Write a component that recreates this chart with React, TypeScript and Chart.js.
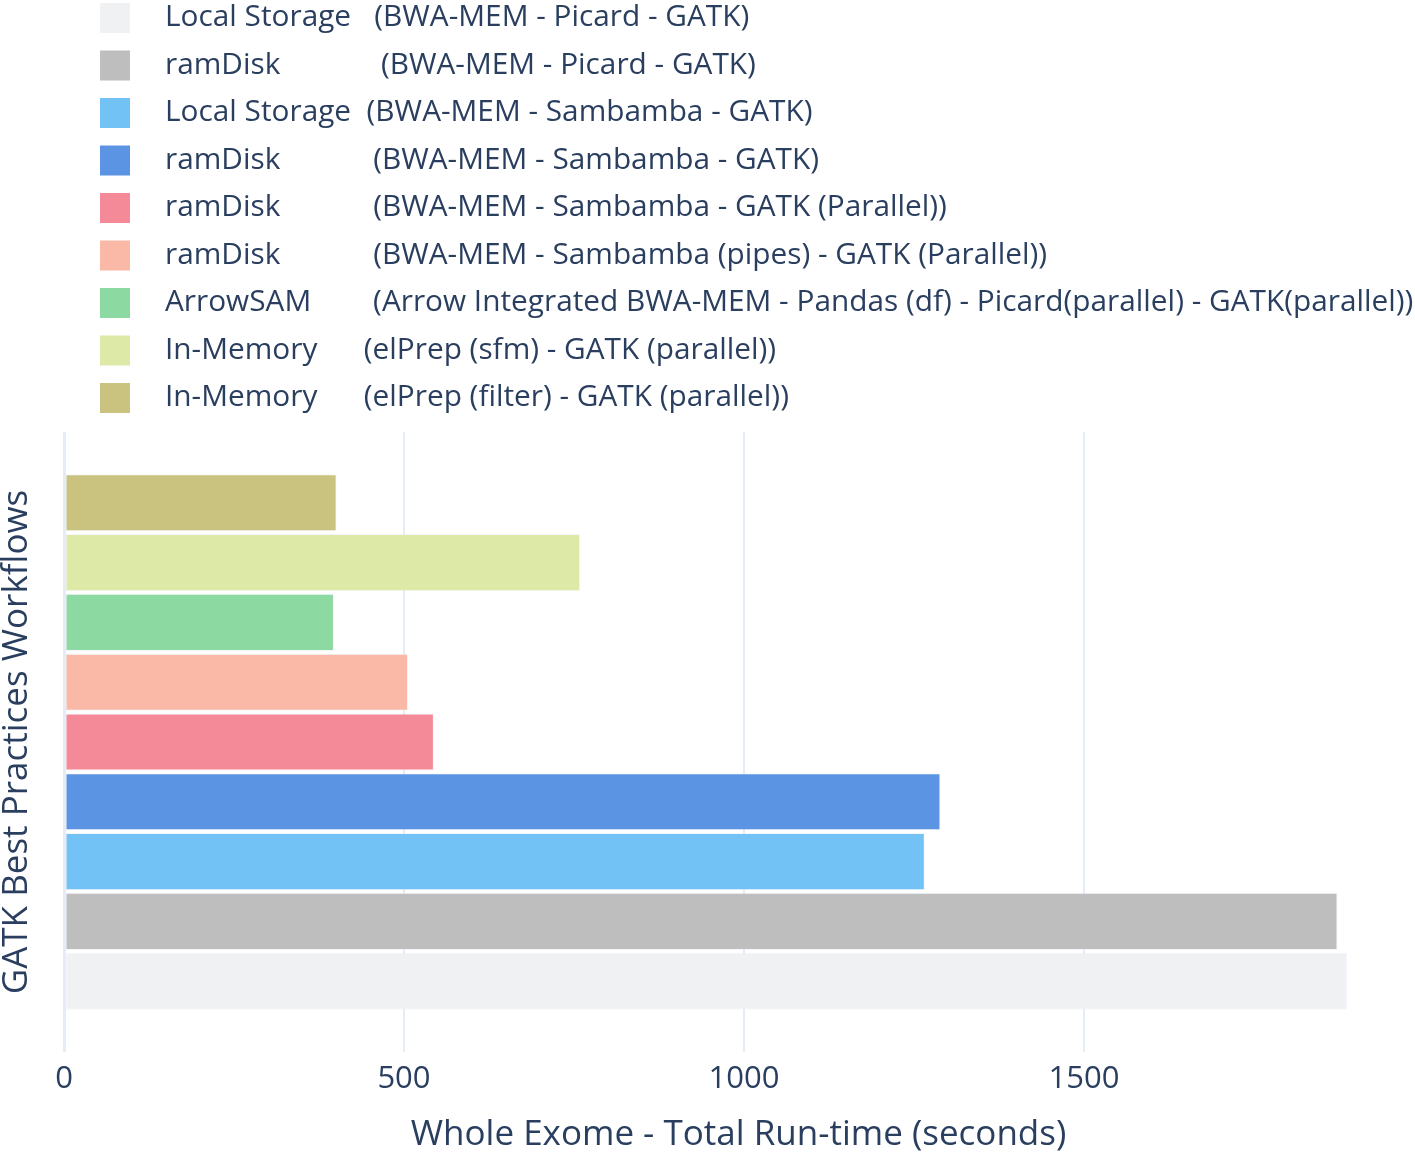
import React, { useEffect, useRef } from "react";
import { Chart, registerables } from "chart.js";

Chart.register(...registerables);

// Datasets listed from the top bar to the bottom bar
const SERIES_LABELS: string[] = [
  "In-Memory      (elPrep (filter) - GATK (parallel))",
  "In-Memory      (elPrep (sfm) - GATK (parallel))",
  "ArrowSAM        (Arrow Integrated BWA-MEM - Pandas (df) - Picard(parallel) - GATK(parallel))",
  "ramDisk            (BWA-MEM - Sambamba (pipes) - GATK (Parallel))",
  "ramDisk            (BWA-MEM - Sambamba - GATK (Parallel))",
  "ramDisk            (BWA-MEM - Sambamba - GATK)",
  "Local Storage  (BWA-MEM - Sambamba - GATK)",
  "ramDisk             (BWA-MEM - Picard - GATK)",
  "Local Storage   (BWA-MEM - Picard - GATK)",
];
const SERIES_VALUES: number[] = [401, 759, 397, 506, 544, 1289, 1266, 1873, 1887];
const SERIES_COLORS: string[] = [
  "#C9C37F",
  "#DDE9A6",
  "#8DD9A2",
  "#F9B9A6",
  "#F48A97",
  "#5C94E4",
  "#72C2F6",
  "#BEBEBE",
  "#F0F1F3",
];
const CATEGORIES: string[] = [""];
const X_TICKS: number[] = [0, 500, 1000, 1500];
const X_MAX = 1984;
const X_TITLE = "Whole Exome - Total Run-time (seconds)";
const Y_TITLE = "GATK Best Practices Workflows";

const TEXT_COLOR = "#2a3f5f";
const GRID_COLOR = "#e5ecf6";
const FONT = '"Open Sans", sans-serif';

const legendPlugin = {
  id: "columnLegend",
  afterDraw(chart: any) {
    const ctx = chart.ctx;
    const ds = chart.data.datasets;
    const n = ds.length;
    ctx.save();
    ctx.font = `29.8px ${FONT}`;
    ctx.textBaseline = "middle";
    ctx.textAlign = "left";
    for (let i = 0; i < n; i++) {
      const d = ds[n - 1 - i];
      const y = 18 + i * 47.5;
      ctx.fillStyle = d.backgroundColor;
      ctx.fillRect(100, y - 15, 30, 30);
      ctx.fillStyle = TEXT_COLOR;
      ctx.fillText(d.label, 165, y);
    }
    ctx.restore();
  },
};

export default function App() {
  const ref = useRef<HTMLCanvasElement | null>(null);

  useEffect(() => {
    if (!ref.current) return;
    const chart = new Chart(ref.current, {
      type: "bar",
      data: {
        labels: CATEGORIES,
        datasets: SERIES_LABELS.map((label, i) => ({
          label,
          data: [SERIES_VALUES[i]],
          backgroundColor: SERIES_COLORS[i],
          borderColor: "rgba(235,240,248,0.6)",
          borderWidth: 1,
          borderSkipped: false,
          categoryPercentage: 0.868,
          barPercentage: 0.955,
        })),
      },
      options: {
        indexAxis: "y",
        animation: false,
        responsive: false,
        layout: { padding: { top: 432, right: 2, bottom: 0, left: 0 } },
        plugins: {
          legend: { display: false },
          tooltip: { enabled: true },
        },
        scales: {
          x: {
            type: "linear",
            min: 0,
            max: X_MAX,
            afterBuildTicks: (scale: any) => {
              scale.ticks = X_TICKS.map((v) => ({ value: v }));
            },
            afterFit: (scale: any) => {
              scale.height = 101;
            },
            ticks: {
              includeBounds: false,
              color: TEXT_COLOR,
              font: { family: FONT, size: 31 },
              padding: 9,
              callback: (v: any) => String(v),
            },
            grid: {
              drawTicks: false,
              color: GRID_COLOR,
              lineWidth: (c: any) => (c.tick && c.tick.value === 0 ? 3 : 2),
            },
            border: { display: false },
            title: {
              display: true,
              text: X_TITLE,
              color: TEXT_COLOR,
              font: { family: FONT, size: 35, lineHeight: 1 },
              padding: { top: 0, bottom: 0 },
            },
          },
          y: {
            type: "category",
            afterFit: (scale: any) => {
              scale.width = 64;
            },
            ticks: { display: false },
            grid: { display: false },
            border: { display: false },
            title: {
              display: true,
              text: Y_TITLE,
              color: TEXT_COLOR,
              font: { family: FONT, size: 35, lineHeight: 1 },
              padding: { top: 0, bottom: 0 },
            },
          },
        },
      },
      plugins: [legendPlugin],
    } as any);
    return () => chart.destroy();
  }, []);

  return (
    <div style={{ position: "absolute", left: 0, top: 0, width: 1415, height: 1153, background: "#fff" }}>
      <canvas ref={ref} width={1415} height={1153} style={{ display: "block" }} />
    </div>
  );
}
